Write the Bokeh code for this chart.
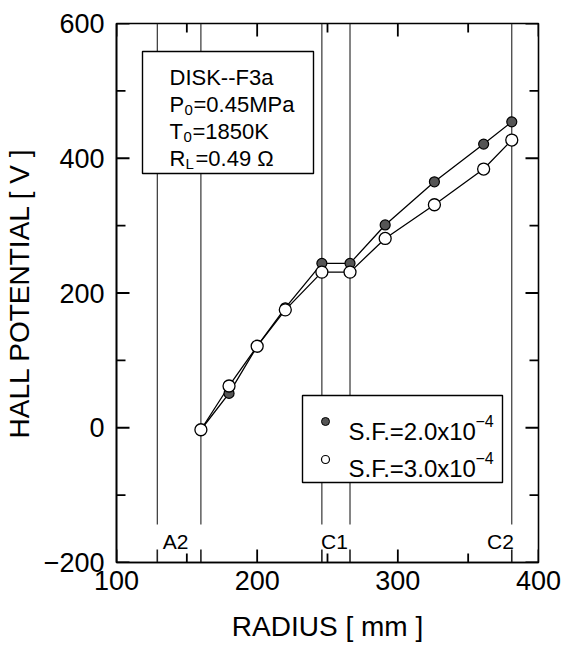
from bokeh.plotting import figure
from bokeh.models import FixedTicker, Label, Range1d
from bokeh.embed import file_html
from bokeh.resources import INLINE

# ---- data ----
radius = [160, 180, 200, 220, 246, 266, 291, 326, 361, 381]
hall_sf2 = [-3, 51, 121, 178, 244, 244, 301, 365, 421, 454]   # S.F.=2.0x10^-4 (filled)
hall_sf3 = [-3, 62, 121, 175, 231, 231, 281, 331, 384, 427]   # S.F.=3.0x10^-4 (open)
electrode_r = [129, 160, 246, 266, 381]
electrode_names = ["A2", "C1", "C2"]
electrode_label_x = [142, 255, 373]
x_major = [100, 200, 300, 400]
x_minor = [150, 250, 350]
y_major = [-200, 0, 200, 400, 600]
y_minor = [-100, 100, 300, 500]

FONT = "Liberation Sans"
W, H = 565, 655
FL, FR, FT, FB = 116, 538, 23, 562
X0, X1, Y0, Y1 = 100, 400, -200, 600
DXP = (X1 - X0) / (FR - FL)   # data units per pixel (x)
DYP = (Y1 - Y0) / (FB - FT)   # data units per pixel (y)


def sx(px):
    return X0 + (px - FL) * DXP


def sy(py):
    return Y1 - (py - FT) * DYP


p = figure(width=W, height=H, output_backend="svg", toolbar_location=None,
           x_range=Range1d(X0, X1), y_range=Range1d(Y0, Y1),
           min_border_left=FL, min_border_right=W - FR,
           min_border_top=FT, min_border_bottom=H - FB)
p.grid.visible = False
p.outline_line_color = "black"
p.outline_line_width = 1.6
p.background_fill_color = "white"
p.border_fill_color = "white"

p.xaxis.ticker = FixedTicker(ticks=x_major, minor_ticks=x_minor)
p.yaxis.ticker = FixedTicker(ticks=y_major, minor_ticks=y_minor)
p.xaxis.axis_label = "RADIUS [ mm ]"
p.yaxis.axis_label = "HALL POTENTIAL [ V ]"
for ax in (p.xaxis[0], p.yaxis[0]):
    ax.axis_line_color = "black"
    ax.axis_line_width = 1.6
    ax.major_tick_in = 0
    ax.major_tick_out = 0
    ax.minor_tick_in = 0
    ax.minor_tick_out = 0
    ax.major_label_text_font = FONT
    ax.major_label_text_font_size = "27px"
    ax.major_label_text_color = "black"
    ax.axis_label_text_font = FONT
    ax.axis_label_text_font_size = "28px"
    ax.axis_label_text_font_style = "normal"
    ax.axis_label_text_color = "black"
p.xaxis.major_label_standoff = 8
p.xaxis.axis_label_standoff = 18
p.yaxis.major_label_standoff = 12
p.yaxis.axis_label_standoff = 6

# inward ticks on all four sides
TMAJ, TMIN = 13, 9
xt = x_major + x_minor
xl = [TMAJ] * len(x_major) + [TMIN] * len(x_minor)
yt = y_major + y_minor
yl = [TMAJ] * len(y_major) + [TMIN] * len(y_minor)
xs, ys = [], []
for t, l in zip(xt, xl):
    xs += [[t, t], [t, t]]
    ys += [[Y0, Y0 + l * DYP], [Y1, Y1 - l * DYP]]
for t, l in zip(yt, yl):
    xs += [[X0, X0 + l * DXP], [X1, X1 - l * DXP]]
    ys += [[t, t], [t, t]]
p.multi_line(xs=xs, ys=ys, line_color="black", line_width=1.8)

# electrode lines (upper long part and short tick at bottom)
n = len(electrode_r)
p.segment(x0=electrode_r, y0=[sy(524)] * n, x1=electrode_r, y1=[Y1] * n,
          line_color="#222222", line_width=1.1)
p.segment(x0=electrode_r, y0=[Y0] * n, x1=electrode_r, y1=[sy(549)] * n,
          line_color="#222222", line_width=1.6)

# info box and legend box (white, cover the lines)
p.quad(left=[sx(142)], right=[sx(313)], top=[sy(51)], bottom=[sy(173)],
       fill_color="white", line_color="black", line_width=1.4)
p.quad(left=[sx(302)], right=[sx(502)], top=[sy(395)], bottom=[sy(482)],
       fill_color="white", line_color="black", line_width=1.4)

# data
p.line(radius, hall_sf2, line_color="black", line_width=1.3)
p.line(radius, hall_sf3, line_color="black", line_width=1.3)
p.scatter(radius, hall_sf2, size=10, marker="circle",
          fill_color="#555555", line_color="black", line_width=1.2)
p.scatter(radius, hall_sf3, size=12, marker="circle",
          fill_color="white", line_color="black", line_width=1.3)

# legend markers
p.scatter([sx(325)], [sy(421)], size=8, marker="circle",
          fill_color="#555555", line_color="black", line_width=1)
p.scatter([sx(325)], [sy(459)], size=8, marker="circle",
          fill_color="white", line_color="black", line_width=1.2)


def lab(x, y, text, size, align="left", baseline="alphabetic"):
    p.add_layout(Label(x=x, y=y, text=text, text_font=FONT,
                       text_font_size=size, text_color="black",
                       text_align=align, text_baseline=baseline))


# legend texts
lab(sx(348), sy(431), "S.F.=2.0x10", "24px")
lab(sx(475), sy(420), "\u22124", "16px")
lab(sx(348), sy(468), "S.F.=3.0x10", "24px")
lab(sx(475), sy(457), "\u22124", "16px")

# info texts
lab(sx(169), sy(77), "DISK--F3a", "22px")
lab(sx(169), sy(104), "P", "22px")
lab(sx(184), sy(109), "0", "15px")
lab(sx(193), sy(104), "=0.45MPa", "22px")
lab(sx(169), sy(131), "T", "22px")
lab(sx(183), sy(136), "0", "15px")
lab(sx(192), sy(131), "=1850K", "22px")
lab(sx(169), sy(158), "R", "22px")
lab(sx(185), sy(163), "L", "15px")
lab(sx(195), sy(158), "=0.49 \u03a9", "22px")

# electrode names
for name, lx in zip(electrode_names, electrode_label_x):
    lab(lx, sy(541), name, "21px", align="center")

open("out.html", "w").write(file_html(p, INLINE))
